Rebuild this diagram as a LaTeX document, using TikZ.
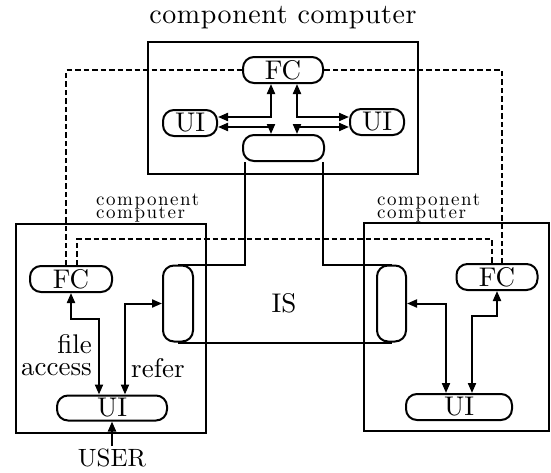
\documentclass[tikz,border=0pt]{standalone}
\usepackage{fontspec}
\setmainfont{lmroman10-regular.otf}
\usetikzlibrary{positioning, arrows.meta, calc}
\tikzset{
  capsule/.style={draw, line width=2pt, rounded corners=11pt, inner sep=0pt,
    minimum height=26pt, font=\fontsize{27}{30}\selectfont},
  isbar/.style={draw, line width=2pt, rounded corners=11pt, inner sep=0pt,
    minimum width=30pt, minimum height=76pt},
  frame/.style={draw, line width=2pt},
  link/.style={line width=2pt},
  dashlink/.style={line width=2pt, dash pattern=on 5.5pt off 3pt},
  lbl/.style={font=\fontsize{27}{23}\selectfont, inner sep=0pt},
  cclabel/.style={font=\fontsize{19}{14}\selectfont\addfontfeatures{LetterSpace=8},
    inner sep=0pt, anchor=base west}
}

\begin{document}
\begin{tikzpicture}[x=1pt, y=-1pt, >={Triangle[length=10pt,width=8pt]}]
\useasboundingbox (0,0) rectangle (551,472);

% the three computers
\draw[frame] (148,42) rectangle (418,174);
\draw[frame] (16,224) rectangle (206,433);
\draw[frame] (364,223) rectangle (549,431);

\node [lbl, font=\fontsize{28}{30}\selectfont\addfontfeatures{LetterSpace=2}] (toplbl) at (283,18) {component computer};
\node [cclabel] (leftlbl) at (96,205) {component};
\node [cclabel] (leftlbl2) at (96,218) {computer};
\node [cclabel] (rightlbl) at (377,205) {component};
\node [cclabel] (rightlbl2) at (377,218) {computer};

% top computer
\node [capsule, minimum width=80pt] (topFC) at (283,70) {FC};
\node [capsule, minimum width=54pt] (topUIl) at (190,123) {UI};
\node [capsule, minimum width=54pt] (topUIr) at (377,122) {UI};
\node [capsule, minimum width=81pt] (topIS) at (283.5,148) {};

\draw[link, <->] ([xshift=-12pt]topFC.south) |- ([yshift=6pt]topUIl.east);
\draw[link, <->] ([yshift=-4pt]topUIl.east) -| ([xshift=-12.5pt]topIS.north);
\draw[link, <->] ([xshift=14pt]topFC.south) |- ([yshift=5pt]topUIr.west);
\draw[link, <->] ([yshift=-5pt]topUIr.west) -| ([xshift=13.5pt]topIS.north);

% IS
\node [isbar] (leftbar) at (178,303.5) {};
\node [isbar, minimum width=29pt] (rightbar) at (391.5,303.5) {};
\node [lbl] (IS) at (284,303) {IS};
\draw[link] ([xshift=2.5pt]topIS.south west) |- (leftbar.north);
\draw[link] ([xshift=-2.5pt]topIS.south east) |- (rightbar.north);
\draw[link] (leftbar.south) -- (rightbar.south);

% left computer
\node [capsule, minimum width=82pt] (leftFC) at (71,279) {FC};
\node [capsule, minimum width=110pt, minimum height=25pt] (leftUI) at (112,408) {UI};
\draw[link, <->] (leftFC.south) -- ++(0,26) -| ([xshift=-13pt]leftUI.north);
\draw[link, <->] ([xshift=13pt]leftUI.north) |- (leftbar.west);
\node [lbl, anchor=base east] (file) at (92,353) {file};
\node [lbl, anchor=base east] (access) at (92,375) {access};
\node [lbl, anchor=base west] (refer) at (131,377) {refer};
\node [lbl, font=\fontsize{25}{27}\selectfont, anchor=base] (user) at (112,466) {USER};
\draw[link, ->] ([yshift=2pt]user.north) -- (leftUI.south);

% right computer
\node [capsule, minimum width=81pt] (rightFC) at (497,277) {FC};
\node [capsule, minimum width=106pt] (rightUI) at (459,407) {UI};
\draw[link, <->] (rightbar.east) -| ([xshift=-13pt]rightUI.north);
\draw[link, <->] (rightFC.south) -- ++(0,25) -| ([xshift=13pt]rightUI.north);

% FC to FC
\draw[dashlink] ([xshift=-5pt]leftFC.north) |- (topFC.west);
\draw[dashlink] ([xshift=6pt]leftFC.north) -- ++(0,-26) -| ([xshift=-5pt]rightFC.north);
\draw[dashlink] ([xshift=5pt]rightFC.north) |- (topFC.east);

\end{tikzpicture}
\end{document}
